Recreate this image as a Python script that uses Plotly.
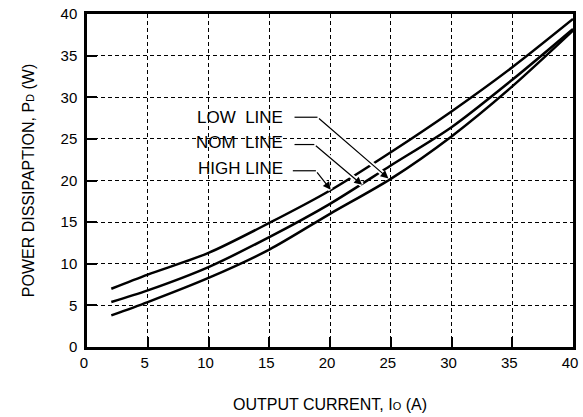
import plotly.graph_objects as go

# ---- data ----
current = [2, 5, 10, 15, 20, 25, 30, 35, 40]
high_line = [7.0, 8.7, 11.3, 14.9, 18.8, 23.4, 28.3, 33.6, 39.4]
nom_line = [5.4, 6.8, 9.6, 13.2, 17.2, 21.8, 26.4, 32.1, 38.2]
low_line = [3.8, 5.4, 8.3, 11.7, 16.0, 20.2, 25.3, 31.3, 38.0]

x_ticks = [0, 5, 10, 15, 20, 25, 30, 35, 40]
y_ticks = [0, 5, 10, 15, 20, 25, 30, 35, 40]

# label callouts: text, text anchor (x, y), bend start x, bend end (x, y), arrow tip (x, y)
callouts = [
    ("LOW&nbsp; LINE", 16.29, 27.54, 17.08, 18.97, 27.6, 24.81, 20.25),
    ("NOM&nbsp; LINE", 16.29, 24.51, 17.08, 18.71, 24.32, 22.64, 19.48),
    ("HIGH LINE", 16.29, 21.44, 16.94, 18.84, 21.17, 20.06, 18.89),
]

FONT = "Liberation Sans, Arial, sans-serif"

fig = go.Figure()
for ys in (high_line, nom_line, low_line):
    fig.add_trace(go.Scatter(
        x=current, y=ys, mode="lines",
        line=dict(color="black", width=2.5, shape="spline", smoothing=0.8),
        showlegend=False, hoverinfo="skip",
    ))

shapes = []
annotations = []
for text, tx, ty, hx0, hx1, hy, px, py in callouts:
    # white underlay to make gaps in the curves where the leader crosses them
    shapes.append(dict(type="line", xref="x", yref="y", x0=hx1, y0=hy, x1=px, y1=py,
                       line=dict(color="white", width=5), layer="above"))
    shapes.append(dict(type="line", xref="x", yref="y", x0=hx0, y0=hy, x1=hx1, y1=hy,
                       line=dict(color="black", width=1.2), layer="above"))
    annotations.append(dict(x=tx, y=ty, xref="x", yref="y", text=text, showarrow=False,
                            xanchor="right", yanchor="middle",
                            font=dict(family=FONT, size=17, color="black")))
    annotations.append(dict(x=px, y=py, xref="x", yref="y", ax=hx1, ay=hy,
                            axref="x", ayref="y", text="", showarrow=True,
                            arrowhead=2, arrowsize=1.3, arrowwidth=1.2, arrowcolor="black"))

axis_common = dict(
    showline=True, linecolor="black", linewidth=2.5, mirror=True,
    ticks="inside", ticklen=10, tickwidth=1.5, tickcolor="black",
    showgrid=True, gridcolor="black", gridwidth=1, griddash="4px,3px",
    zeroline=False,
    tickfont=dict(family=FONT, size=15, color="black"),
)

fig.update_layout(
    width=583, height=417,
    margin=dict(l=87, r=5, t=9, b=69),
    paper_bgcolor="white", plot_bgcolor="white",
    xaxis=dict(range=[0, 40], tickvals=x_ticks, ticktext=[str(v) for v in x_ticks],
               title=dict(text="OUTPUT CURRENT, I<span style='font-size:11px'>O</span> (A)",
                          font=dict(family=FONT, size=16, color="black"), standoff=30),
               ticklabelshift=-3, ticklabeloverflow="allow",
               **axis_common),
    yaxis=dict(range=[0, 40], tickvals=y_ticks, ticktext=[str(v) for v in y_ticks],
               title=dict(text="POWER DISSIPAPTION, P<span style='font-size:11px'>D</span> (W)",
                          font=dict(family=FONT, size=16, color="black"), standoff=22),
               ticklabelstandoff=4,
               **axis_common),
    shapes=shapes,
    annotations=annotations,
)

fig.write_html("out.html")
